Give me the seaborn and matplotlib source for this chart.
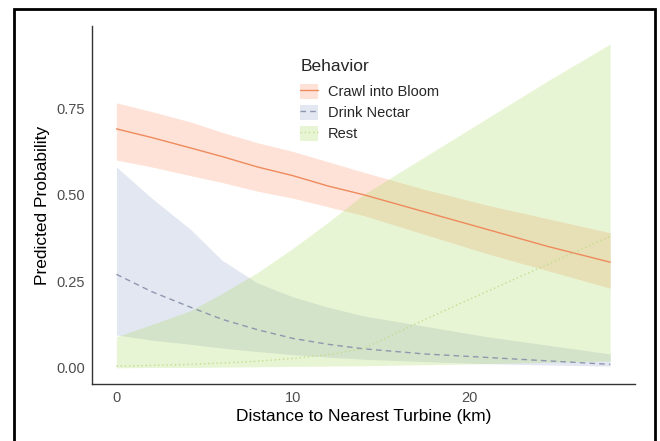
import numpy as np
import pandas as pd
import seaborn as sns
import matplotlib.pyplot as plt
from matplotlib.patches import Patch, Rectangle
from matplotlib.lines import Line2D
from matplotlib.legend_handler import HandlerTuple

# distances where the model was evaluated (km)
distance = [0, 2, 4.2, 6, 8, 10, 12, 14, 17.5, 21, 24.5, 28]

behaviors = ['Crawl into Bloom', 'Drink Nectar', 'Rest']

crawl_fit = [0.69, 0.665, 0.635, 0.61, 0.58, 0.555, 0.525, 0.50, 0.45, 0.40, 0.35, 0.305]
crawl_lo = [0.60, 0.58, 0.555, 0.535, 0.51, 0.49, 0.465, 0.44, 0.385, 0.33, 0.28, 0.23]
crawl_hi = [0.765, 0.74, 0.71, 0.68, 0.65, 0.625, 0.595, 0.565, 0.515, 0.47, 0.43, 0.39]

drink_fit = [0.27, 0.22, 0.175, 0.14, 0.11, 0.085, 0.068, 0.055, 0.04, 0.03, 0.02, 0.01]
drink_lo = [0.095, 0.08, 0.068, 0.057, 0.047, 0.038, 0.031, 0.025, 0.018, 0.012, 0.008, 0.005]
drink_hi = [0.58, 0.49, 0.40, 0.31, 0.245, 0.205, 0.175, 0.15, 0.12, 0.09, 0.065, 0.04]

rest_fit = [0.005, 0.007, 0.01, 0.014, 0.019, 0.027, 0.038, 0.055, 0.14, 0.22, 0.30, 0.38]
rest_lo = [0.0, 0.001, 0.001, 0.002, 0.003, 0.004, 0.005, 0.006, 0.009, 0.012, 0.016, 0.02]
rest_hi = [0.09, 0.125, 0.165, 0.215, 0.275, 0.345, 0.42, 0.50, 0.61, 0.72, 0.83, 0.935]

fits = [crawl_fit, drink_fit, rest_fit]
los = [crawl_lo, drink_lo, rest_lo]
his = [crawl_hi, drink_hi, rest_hi]

df = pd.DataFrame({
    'distance': distance * 3,
    'behavior': np.repeat(behaviors, len(distance)),
    'prob': np.concatenate(fits),
    'lo': np.concatenate(los),
    'hi': np.concatenate(his),
})

sns.set_style('white')
plt.rcParams['font.family'] = ['Liberation Sans', 'DejaVu Sans']

line_cols = {'Crawl into Bloom': '#EE8A5C', 'Drink Nectar': '#8F97AE', 'Rest': '#C3DC8C'}
fill_cols = {'Crawl into Bloom': '#FC8D62', 'Drink Nectar': '#8DA0CB', 'Rest': '#A6D854'}
dash_map = {'Crawl into Bloom': '', 'Drink Nectar': (4, 3), 'Rest': (1, 2)}

fig = plt.figure(figsize=(6.6, 4.41), dpi=100)
ax = fig.add_axes([0.139, 0.129, 0.823, 0.812])

for b in behaviors:
    sub = df[df['behavior'] == b]
    ax.fill_between(sub['distance'], sub['lo'], sub['hi'], color=fill_cols[b],
                    alpha=0.25, linewidth=0)

sns.lineplot(data=df, x='distance', y='prob', hue='behavior', style='behavior',
             palette=line_cols, dashes=dash_map, linewidth=1.0, ax=ax, legend=False)

ax.set_xlim(-1.4, 29.4)
ax.set_ylim(-0.047, 0.987)
ax.set_xticks([0, 10, 20])
ax.set_yticks([0, 0.25, 0.5, 0.75])
ax.set_yticklabels(['0.00', '0.25', '0.50', '0.75'])
ax.tick_params(axis='both', length=3, width=0.8, color='#333333',
               labelcolor='#4D4D4D', labelsize=10.5, pad=2)
for s in ['top', 'right']:
    ax.spines[s].set_visible(False)
for s in ['left', 'bottom']:
    ax.spines[s].set_color('#333333')
    ax.spines[s].set_linewidth(1.0)

ax.set_xlabel('Distance to Nearest Turbine (km)', fontsize=12.5, color='black', labelpad=3)
ax.set_ylabel('Predicted Probability', fontsize=12.5, color='black', labelpad=4)

handles = []
for b in behaviors:
    p = Patch(facecolor=fill_cols[b], alpha=0.25, edgecolor='none')
    ls = '-' if b == 'Crawl into Bloom' else ((0, (4, 3)) if b == 'Drink Nectar' else (0, (1, 2)))
    l = Line2D([], [], color=line_cols[b], linestyle=ls, linewidth=1.0)
    handles.append((p, l))

leg = ax.legend(handles, behaviors, title='Behavior', loc='upper left',
                bbox_to_anchor=(0.36, 0.945), frameon=False, fontsize=10.5,
                title_fontsize=12.5, handler_map={tuple: HandlerTuple(ndivide=1, pad=0)},
                handlelength=1.2, handleheight=1.3, labelspacing=0.35, handletextpad=0.7)
leg._legend_box.align = 'left'
leg._legend_box.sep = 7

fig.patches.append(Rectangle((0.021, -0.01), 0.971, 0.99, transform=fig.transFigure,
                             fill=False, edgecolor='black', linewidth=2))

fig.savefig('out.png', dpi=100)
